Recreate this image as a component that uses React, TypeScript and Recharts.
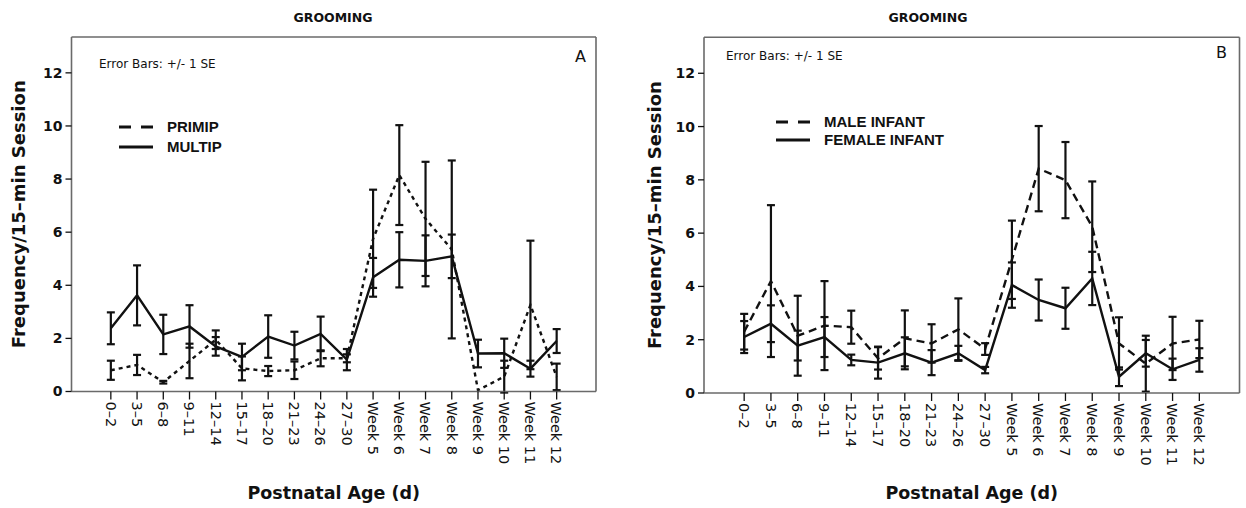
import React from 'react';
import { LineChart, Line, XAxis, YAxis, ErrorBar, Legend } from 'recharts';

// Postnatal age bins shared by both panels
const AGE_LABELS = [
  '0–2', '3–5', '6–8', '9–11', '12–14', '15–17', '18–20', '21–23', '24–26', '27–30',
  'Week 5', 'Week 6', 'Week 7', 'Week 8', 'Week 9', 'Week 10', 'Week 11', 'Week 12',
];

// Panel A: maternal parity
const primipMean = [0.8, 1.0, 0.35, 1.15, 1.95, 0.87, 0.77, 0.8, 1.25, 1.25, 5.75, 8.15, 6.5, 5.35, 0.05, 0.56, 3.26, 0.55];
const primipSE = [0.36, 0.38, 0.05, 0.65, 0.35, 0.45, 0.19, 0.33, 0.3, 0.15, 1.85, 1.88, 2.15, 3.35, 0, 0.6, 2.42, 0.5];
const multipMean = [2.38, 3.62, 2.15, 2.45, 1.7, 1.3, 2.07, 1.73, 2.17, 1.2, 4.3, 4.96, 4.92, 5.09, 1.43, 1.44, 0.86, 1.9];
const multipSE = [0.6, 1.13, 0.74, 0.8, 0.35, 0.5, 0.8, 0.52, 0.65, 0.4, 0.73, 1.04, 0.96, 0.82, 0.52, 0.55, 0.3, 0.45];

// Panel B: infant sex
const maleMean = [2.3, 4.2, 2.15, 2.53, 2.47, 1.3, 2.05, 1.86, 2.39, 1.65, 5.0, 8.42, 7.99, 6.24, 1.86, 1.1, 1.86, 2.01];
const maleSE = [0.67, 2.85, 1.5, 1.67, 0.62, 0.42, 1.05, 0.72, 1.16, 0.22, 1.47, 1.6, 1.43, 1.7, 0.98, 1.05, 1.0, 0.7];
const femaleMean = [2.1, 2.6, 1.78, 2.1, 1.24, 1.14, 1.49, 1.14, 1.49, 0.86, 4.05, 3.49, 3.18, 4.3, 0.61, 1.49, 0.89, 1.24];
const femaleSE = [0.6, 0.69, 0.56, 0.75, 0.2, 0.6, 0.6, 0.47, 0.28, 0.12, 0.85, 0.77, 0.77, 1.0, 0.35, 0.5, 0.4, 0.44];

const Y_TICKS = [0, 2, 4, 6, 8, 10, 12];
const Y_MAX = 13.35;

const INK = '#111';
const FRAME = '#6a6a6a';
const SANS = '"DejaVu Sans", sans-serif';
const LEGEND_FONT = '"Liberation Sans", Arial, sans-serif';

type Row = { age: string; dashed: number; dashedErr: number; solid: number; solidErr: number };

function buildRows(dMean: number[], dSE: number[], sMean: number[], sSE: number[]): Row[] {
  return AGE_LABELS.map((age, i) => ({
    age,
    dashed: dMean[i],
    dashedErr: dSE[i],
    solid: sMean[i],
    solidErr: sSE[i],
  }));
}

const AgeTick = (props: any) => {
  const { x, y, payload } = props;
  return (
    <text
      x={0}
      y={0}
      dy="0.36em"
      transform={`translate(${x},${y}) rotate(90)`}
      textAnchor="start"
      fill={INK}
      fontSize={14.5}
      fontFamily={SANS}
    >
      {payload.value}
    </text>
  );
};

type PanelProps = {
  left: number;
  width: number;
  plotLeft: number;
  plotRight: number;
  plotTop: number;
  plotBottom: number;
  rows: Row[];
  dashedName: string;
  solidName: string;
  lineDash: string;
  titleX: number;
  yLabelX: number;
  noteX: number;
  noteY: number;
  letter: string;
  letterRight: number;
  letterY: number;
  legendX: number;
  legendY: number;
  legendGap: number;
};

function Panel(p: PanelProps) {
  const plotW = p.plotRight - p.plotLeft;
  const pad = (plotW / 20) * 1.5;
  const order = [p.dashedName, p.solidName];
  const legendDash: Record<string, string> = { [p.dashedName]: '12 10', [p.solidName]: '' };

  const renderLegend = (lp: any) => {
    const items = ([...(lp.payload || [])] as any[]).sort(
      (a, b) => order.indexOf(a.value) - order.indexOf(b.value),
    );
    return (
      <div style={{ display: 'flex', flexDirection: 'column', gap: p.legendGap }}>
        {items.map((it) => (
          <div key={it.value} style={{ display: 'flex', alignItems: 'center', height: 16 }}>
            <svg width={36} height={6} style={{ marginRight: 13 }}>
              <line
                x1={1}
                y1={3}
                x2={35}
                y2={3}
                stroke={INK}
                strokeWidth={3}
                strokeDasharray={legendDash[it.value] || undefined}
              />
            </svg>
            <span style={{ fontFamily: LEGEND_FONT, fontWeight: 700, fontSize: 15, color: INK, lineHeight: '16px' }}>
              {it.value}
            </span>
          </div>
        ))}
      </div>
    );
  };

  return (
    <div style={{ position: 'absolute', left: p.left, top: 0, width: p.width, height: 508 }}>
      <LineChart
        width={p.width}
        height={508}
        data={p.rows}
        margin={{ top: p.plotTop - 1, right: p.width - p.plotRight - 1, bottom: 0, left: 0 }}
      >
        <XAxis
          dataKey="age"
          type="category"
          scale="point"
          interval={0}
          height={508 - p.plotBottom}
          padding={{ left: pad, right: pad }}
          tickSize={8}
          tickMargin={2}
          tick={<AgeTick />}
          axisLine={{ stroke: FRAME, strokeWidth: 1.6 }}
          tickLine={{ stroke: INK, strokeWidth: 1.3 }}
          label={{
            value: 'Postnatal Age (d)',
            position: 'insideBottom',
            offset: 9,
            style: { fontFamily: SANS, fontWeight: 700, fontSize: 17.5, fill: INK },
          }}
        />
        <XAxis
          xAxisId="frameTop"
          orientation="top"
          dataKey="age"
          type="category"
          scale="point"
          height={1}
          padding={{ left: pad, right: pad }}
          tick={false}
          tickLine={false}
          axisLine={{ stroke: FRAME, strokeWidth: 1.6 }}
        />
        <YAxis
          type="number"
          domain={[0, Y_MAX]}
          ticks={Y_TICKS}
          allowDataOverflow
          width={p.plotLeft}
          tickSize={6}
          tickMargin={3}
          axisLine={{ stroke: FRAME, strokeWidth: 1.6 }}
          tickLine={{ stroke: INK, strokeWidth: 1.3 }}
          tick={{ fontFamily: SANS, fontWeight: 700, fontSize: 14, fill: INK }}
          label={{
            value: 'Frequency/15–min Session',
            angle: -90,
            position: 'insideLeft',
            offset: p.yLabelX,
            style: { textAnchor: 'middle', fontFamily: SANS, fontWeight: 700, fontSize: 18, fill: INK },
          }}
        />
        <YAxis
          yAxisId="frameRight"
          orientation="right"
          type="number"
          domain={[0, Y_MAX]}
          width={1}
          tick={false}
          tickLine={false}
          axisLine={{ stroke: FRAME, strokeWidth: 1.6 }}
        />
        <Legend
          layout="horizontal"
          verticalAlign="middle"
          align="center"
          content={renderLegend}
          wrapperStyle={{ left: p.legendX, top: p.legendY, width: 200, height: 'auto' }}
        />
        <Line
          name={p.dashedName}
          dataKey="dashed"
          stroke={INK}
          strokeWidth={2.4}
          strokeDasharray={p.lineDash}
          dot={false}
          activeDot={false}
          isAnimationActive={false}
        >
          <ErrorBar dataKey="dashedErr" width={4} stroke={INK} strokeWidth={2.2} direction="y" />
        </Line>
        <Line
          name={p.solidName}
          dataKey="solid"
          stroke={INK}
          strokeWidth={2.4}
          dot={false}
          activeDot={false}
          isAnimationActive={false}
        >
          <ErrorBar dataKey="solidErr" width={4} stroke={INK} strokeWidth={2.2} direction="y" />
        </Line>
      </LineChart>

      <div
        style={{
          position: 'absolute',
          left: p.titleX - 100,
          width: 200,
          top: 9,
          textAlign: 'center',
          fontFamily: SANS,
          fontWeight: 700,
          fontSize: 12.5,
          color: INK,
          lineHeight: '18px',
        }}
      >
        GROOMING
      </div>
      <div
        style={{
          position: 'absolute',
          left: p.noteX,
          top: p.noteY - 8,
          fontFamily: SANS,
          fontSize: 12,
          color: INK,
          lineHeight: '16px',
          whiteSpace: 'nowrap',
        }}
      >
        Error Bars: +/- 1 SE
      </div>
      <div
        style={{
          position: 'absolute',
          left: p.letterRight - 40,
          width: 40,
          textAlign: 'right',
          top: p.letterY - 10,
          fontFamily: SANS,
          fontSize: 16,
          color: INK,
          lineHeight: '20px',
        }}
      >
        {p.letter}
      </div>
    </div>
  );
}

export default function App() {
  const rowsA = buildRows(primipMean, primipSE, multipMean, multipSE);
  const rowsB = buildRows(maleMean, maleSE, femaleMean, femaleSE);
  return (
    <div style={{ position: 'absolute', left: 0, top: 0, width: 1246, height: 508, background: '#fff' }}>
      <Panel
        left={0}
        width={620}
        plotLeft={71.5}
        plotRight={596}
        plotTop={37}
        plotBottom={391.5}
        rows={rowsA}
        dashedName="PRIMIP"
        solidName="MULTIP"
        lineDash="4 4"
        titleX={333}
        yLabelX={19}
        noteX={99}
        noteY={64}
        letter="A"
        letterRight={586}
        letterY={57}
        legendX={118}
        legendY={119}
        legendGap={4}
      />
      <Panel
        left={620}
        width={626}
        plotLeft={84}
        plotRight={619.5}
        plotTop={37.3}
        plotBottom={393}
        rows={rowsB}
        dashedName="MALE INFANT"
        solidName="FEMALE INFANT"
        lineDash="8 5"
        titleX={308}
        yLabelX={35}
        noteX={106}
        noteY={56}
        letter="B"
        letterRight={607}
        letterY={53}
        legendX={155}
        legendY={114}
        legendGap={2}
      />
    </div>
  );
}
